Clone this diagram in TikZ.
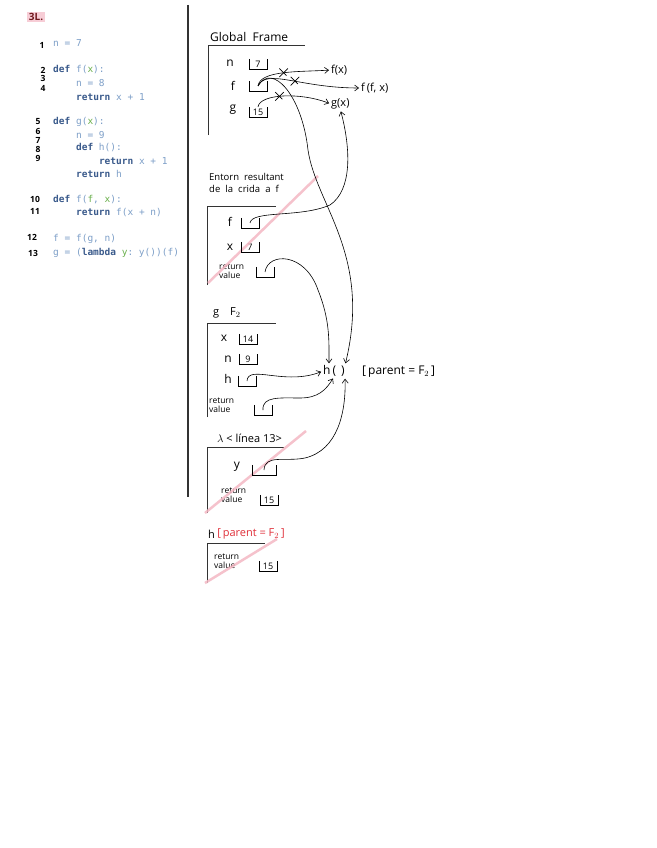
\documentclass[tikz,border=0pt]{standalone}
\usepackage{fontspec}
\setmainfont{Open Sans}
\setmonofont{DejaVu Sans Mono}
\usepackage{xcolor}
\definecolor{Keyw}{HTML}{3B5B8C}
\definecolor{Code}{HTML}{7D9FC8}
\definecolor{Param}{HTML}{6AB04C}
\definecolor{Marker}{HTML}{F4B8C4}
\definecolor{Redpen}{HTML}{E0303A}
\definecolor{Rule}{HTML}{333333}
\usetikzlibrary{arrows.meta,positioning,shapes.misc}
\newcommand{\kw}[1]{\textbf{\color{Keyw}#1}}
\newcommand{\pa}[1]{{\color{Param}#1}}

\begin{document}
\begin{tikzpicture}[x=1pt,y=-1pt,
  code/.style={anchor=west,font=\ttfamily\fontsize{9.5}{10}\selectfont,text=Code,inner sep=0pt},
  lnum/.style={font=\fontsize{8.5}{9}\selectfont\bfseries,inner sep=0pt},
  hand/.style={anchor=west,font=\fontsize{11}{12}\selectfont,inner sep=0pt},
  lbl/.style={font=\fontsize{12}{13}\selectfont,inner sep=0pt},
  small/.style={anchor=west,font=\fontsize{8.5}{8.5}\selectfont,inner sep=0pt,align=left},
  valbox/.style={minimum width=17pt,minimum height=10pt,inner sep=0pt,font=\fontsize{9}{10}\selectfont},
  arr/.style={-{Straight Barb[length=4pt,width=6pt]},semithick,shorten >=2pt},
  xmark/.style={cross out,draw,semithick,minimum size=8pt,inner sep=0pt},
  frame/.style={draw=Rule,line width=1pt},
  marker/.style={Marker,line width=2.5pt,opacity=.85}]
\fill[white] (0,0) rectangle (656,848);
\useasboundingbox (0,0) rectangle (656,848);

% exercise tag
\node[fill=Marker!70,text=Redpen!50!black,font=\fontsize{10}{11}\selectfont\bfseries,inner sep=1.5pt] (tag) at (36,17) {3L.};

% code listing
\foreach \y/\i/\txt in {43/0/{n = 7}, 70/0/{\kw{def} f(\pa{x}):}, 83/1/{n = 8}, 97/1/{\kw{return} x + 1},
  122/0/{\kw{def} g(\pa{x}):}, 135/1/{n = 9}, 148/1/{\kw{def} h():}, 161/2/{\kw{return} x + 1}, 174/1/{\kw{return} h},
  200/0/{\kw{def} f(\pa{f}, \pa{x}):}, 213/1/{\kw{return} f(x + n)},
  239/0/{f = f(g, n)}, 253/0/{g = (\kw{lambda} \pa{y}: y())(f)}}
  \node[code] at ({53+\i*22.9},\y) {\txt};
\foreach \n/\x/\y in {1/42/45, 2/43/70, 3/43/78, 4/43/88, 5/38/122, 6/38/131, 7/38/140, 8/38/149, 9/38/158,
  10/35/199, 11/35/211, 12/32/237, 13/33/253}
  \node[lnum] (ln\n) at (\x,\y) {\n};

\draw[Rule,line width=1.5pt] (188,5) -- (188,497);

% global frame
\node[hand,font=\fontsize{12}{13}\selectfont] (gtitle) at (210,37) {Global\; Frame};
\draw[frame] (208,135) -- (208,46) -- (305,46);
\node[lbl] (gn) at (230,63) {n};
\node[valbox] (gnb) at (258,64) {7};
\node[lbl] (gf) at (233,86) {f};
\node[valbox] (gfb) at (258,86) {};
\node[lbl] (gg) at (233,110) {g};
\node[valbox] (ggb) at (258,112) {15};
\node[hand] (fx) at (331,70) {f(x)};
\node[hand] (ffx) at (361,88) {f\,(f, x)};
\node[hand] (gx) at (331,104) {g(x)};

% frame of the call to f
\node[small,font=\fontsize{9.5}{12}\selectfont] (etitle) at (209,183) {Entorn\; resultant\\de\; la\; crida\; a\; f};
\draw[frame] (207,285) -- (207,206) -- (276,206);
\node[lbl] (ef) at (230,222) {f};
\node[valbox] (efb) at (250,223) {};
\node[lbl] (ex) at (230,247) {x};
\node[valbox] (exb) at (250,247) {7};
\node[small] (erv) at (219,271) {return\\value};
\node[valbox] (ervb) at (265,272) {};
\draw[marker] (208,283) -- (318,176);

% frame F2
\node[hand] (g2title) at (213,313) {g\quad F$_2$};
\draw[frame] (207,417) -- (207,323) -- (276,323);
\node[lbl] (g2x) at (224,338) {x};
\node[valbox] (g2xb) at (248,339) {14};
\node[lbl] (g2n) at (228,359) {n};
\node[valbox] (g2nb) at (248,359) {9};
\node[lbl] (g2h) at (228,379) {h};
\node[valbox] (g2hb) at (247,381) {};
\node[small] (g2rv) at (209,405) {return\\value};
\node[valbox] (g2rvb) at (263,410) {};

% function object h
\node[lbl,font=\fontsize{12}{13}\selectfont] (hfn) at (334,371) {h\,(\ \,)};
\node[hand,font=\fontsize{12}{13}\selectfont] (hpar) at (362,372) {[\,parent = F$_2$\,]};

% lambda frame
\node[hand] (ltitle) at (217,438) {$\lambda$ < línea 13>};
\draw[frame] (207,513) -- (207,447) -- (284,447);
\node[lbl] (ly) at (237,467) {y};
\node[valbox,minimum width=24pt] (lyb) at (264,470) {};
\node[small] (lrv) at (221,495) {return\\value};
\node[valbox] (lrvb) at (269,500) {15};
\draw[marker] (205,513) -- (306,431);

% frame of h
\node[hand] (htitle) at (208,534) {h};
\node[hand,text=Redpen,right=2pt of htitle] (hpar2) {[\,parent = F$_2$\,]};
\draw[frame] (207,583) -- (207,543) -- (265,543);
\node[small] (hrv) at (214,561) {return\\value};
\node[valbox] (hrvb) at (268,566) {15};
\draw[marker] (205,583) -- (277,539);

% value boxes
\foreach \b in {gnb,gfb,ggb,efb,exb,ervb,g2xb,g2nb,g2hb,g2rvb,lyb,lrvb,hrvb}
  \draw[thin] (\b.north west) |- (\b.south east) -- (\b.north east);

% pointers
\draw[arr] (gfb.center) .. controls (260,70) and (300,72) .. node[pos=.5,xmark]{} (fx.west);
\draw[arr] (gfb.center) .. controls (266,68) and (300,88) .. node[pos=.55,xmark]{} (ffx.west);
\draw[arr] (gfb.center) .. controls (272,62) and (302,95) .. (308,150)
  .. controls (316,205) and (372,255) .. (hfn.north east);
\draw[arr] (ggb.north) .. controls (260,94) and (300,92) .. node[pos=.45,xmark]{} (gx.west);
\draw[arr] (efb.center) .. controls (252,210) and (300,218) .. (330,205)
  .. controls (352,190) and (351,150) .. (gx.south);
\draw[arr] (ervb.center) .. controls (268,252) and (305,252) .. (318,290)
  .. controls (330,320) and (329,340) .. ([xshift=-5pt]hfn.north);
\draw[arr] (g2hb.center) .. controls (248,364) and (285,386) .. (hfn.west);
\draw[arr] (g2rvb.center) .. controls (262,396) and (280,398) .. (300,398)
  .. controls (318,398) and (326,390) .. (hfn.south);
\draw[arr] (lyb.center) .. controls (265,454) and (285,462) .. (305,458)
  .. controls (338,450) and (346,412) .. (hfn.south east);
\end{tikzpicture}
\end{document}
